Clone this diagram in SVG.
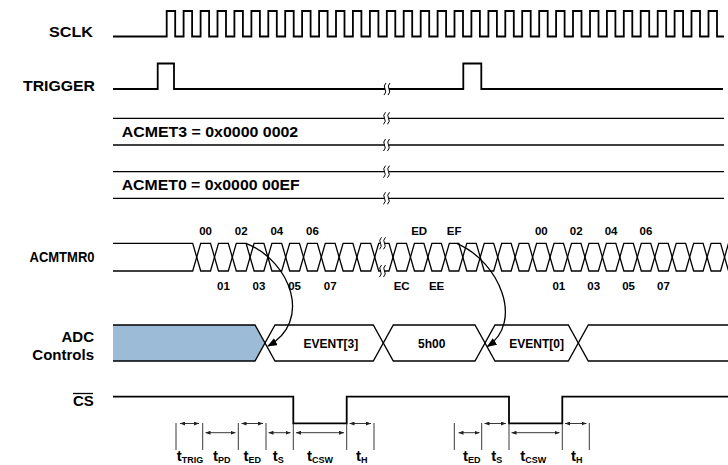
<svg xmlns="http://www.w3.org/2000/svg" xmlns:xlink="http://www.w3.org/1999/xlink" width="728" height="465" viewBox="0 0 728 465">
<style>
text{font-family:"Liberation Sans",Arial,sans-serif;font-weight:bold;fill:#000}
.lbl{font-size:15px}
.cnt{font-size:11.5px;text-anchor:middle}
.bus{font-size:12px;text-anchor:middle}
.tm{font-size:15px;text-anchor:middle}
.sub{font-size:9px}
.sig{fill:none;stroke:#000;stroke-width:1.8;stroke-linejoin:miter}
.thin{fill:none;stroke:#000;stroke-width:1.3}
.tick{fill:none;stroke:#222;stroke-width:0.9}
.dim{fill:none;stroke:#222;stroke-width:0.9;marker-start:url(#dh);marker-end:url(#dh)}
.conn{fill:none;stroke:#000;stroke-width:1.3;marker-end:url(#ah)}
.sq{fill:none;stroke:#000;stroke-width:1}
</style>
<defs>
<marker id="ah" markerUnits="userSpaceOnUse" markerWidth="10" markerHeight="8" refX="9" refY="4" orient="auto"><path d="M0,0 L10,4 L0,8 z" fill="#000"/></marker>
<marker id="dh" markerUnits="userSpaceOnUse" markerWidth="5" markerHeight="4" refX="5" refY="2" orient="auto-start-reverse"><path d="M0,0 L5,2 L0,4 z" fill="#222"/></marker>
<g id="brk"><rect x="-2" y="-1.8" width="4" height="3.6" fill="#fff"/><path class="sq" d="M-1,-6 Q-4,-3 -2,0 T-3,6"/><path class="sq" d="M3,-6 Q0,-3 2,0 T1,6"/></g>
</defs>
<rect width="728" height="465" fill="#fff"/>

<g id="sig-sclk">
<text class="lbl" x="49" y="37" textLength="44" lengthAdjust="spacingAndGlyphs">SCLK</text>
<path class="sig" d="M113,36.5 H166.7 V11 H175.2 V36.5 H183.6 V11 H192.1 V36.5 H200.6 V11 H209.1 V36.5 H217.5 V11 H226 V36.5 H234.4 V11 H242.9 V36.5 H251.4 V11 H259.9 V36.5 H268.3 V11 H276.8 V36.5 H285.2 V11 H293.7 V36.5 H302.1 V11 H310.6 V36.5 H319.1 V11 H327.6 V36.5 H336 V11 H344.5 V36.5 H352.9 V11 H361.4 V36.5 H369.9 V11 H378.4 V36.5 H386.8 V11 H395.3 V36.5 H403.7 V11 H412.2 V36.5 H420.7 V11 H429.2 V36.5 H437.6 V11 H446.1 V36.5 H454.5 V11 H463 V36.5 H471.4 V11 H479.9 V36.5 H488.4 V11 H496.9 V36.5 H505.3 V11 H513.8 V36.5 H522.2 V11 H530.7 V36.5 H539.2 V11 H547.7 V36.5 H556.1 V11 H564.6 V36.5 H573 V11 H581.5 V36.5 H590 V11 H598.5 V36.5 H606.9 V11 H615.4 V36.5 H623.8 V11 H632.3 V36.5 H640.7 V11 H649.2 V36.5 H657.7 V11 H666.2 V36.5 H674.6 V11 H683.1 V36.5 H691.5 V11 H700 V36.5 H708.5 V11 H717 V36.5 H724"/>
</g>

<g id="sig-trigger">
<text class="lbl" x="23" y="90.5" textLength="72" lengthAdjust="spacingAndGlyphs">TRIGGER</text>
<path class="sig" d="M113,89 H157.7 V63.5 H174 V89 H463.3 V63.5 H481.3 V89 H723"/>
<use xlink:href="#brk" x="387" y="89"/>
</g>

<g id="sig-acmet3">
<line class="thin" x1="113" y1="118.3" x2="724" y2="118.3"/>
<line class="thin" x1="113" y1="145" x2="724" y2="145"/>
<text class="lbl" x="121.7" y="136.5" textLength="176.5" lengthAdjust="spacingAndGlyphs">ACMET3 = 0x0000 0002</text>
<use xlink:href="#brk" x="386.5" y="118.3"/>
<use xlink:href="#brk" x="386.5" y="145"/>
</g>

<g id="sig-acmet0">
<line class="thin" x1="113" y1="171.7" x2="724" y2="171.7"/>
<line class="thin" x1="113" y1="198.3" x2="724" y2="198.3"/>
<text class="lbl" x="121.7" y="189.5" textLength="178" lengthAdjust="spacingAndGlyphs">ACMET0 = 0x0000 00EF</text>
<use xlink:href="#brk" x="386.5" y="171.7"/>
<use xlink:href="#brk" x="386.5" y="198.3"/>
</g>

<g id="sig-acmtmr0">
<text class="lbl" x="29.5" y="262" textLength="65" lengthAdjust="spacingAndGlyphs">ACMTMR0</text>
<path class="thin" d="M113,243.3 H192.7 L200.7,271 H210.5 L218.5,243.3 H228.3 L236.3,271 H246.1 L254.1,243.3 H263.9 L271.9,271 H281.7 L289.7,243.3 H299.5 L307.5,271 H317.3 L325.3,243.3 H335.1 L343.1,271 H352.9 L360.9,243.3 H370.7 L378.7,271 H385"/>
<path class="thin" d="M113,271 H192.7 L200.7,243.3 H210.5 L218.5,271 H228.3 L236.3,243.3 H246.1 L254.1,271 H263.9 L271.9,243.3 H281.7 L289.7,271 H299.5 L307.5,243.3 H317.3 L325.3,271 H335.1 L343.1,243.3 H352.9 L360.9,271 H370.7 L378.7,243.3 H385"/>
<path class="thin" d="M380,271 H389 L397,243.3 H406.45 L414.45,271 H423.9 L431.9,243.3 H441.35 L449.35,271 H458.8 L466.8,243.3 H476.25 L484.25,271 H493.7 L501.7,243.3 H511.15 L519.15,271 H528.6 L536.6,243.3 H546.05 L554.05,271 H563.5 L571.5,243.3 H580.95 L588.95,271 H598.4 L606.4,243.3 H615.85 L623.85,271 H633.3 L641.3,243.3 H650.75 L658.75,271 H668.2 L676.2,243.3 H685.65 L693.65,271 H703.1 L711.1,243.3 H720.55 L728.55,271"/>
<path class="thin" d="M380,243.3 H389 L397,271 H406.45 L414.45,243.3 H423.9 L431.9,271 H441.35 L449.35,243.3 H458.8 L466.8,271 H476.25 L484.25,243.3 H493.7 L501.7,271 H511.15 L519.15,243.3 H528.6 L536.6,271 H546.05 L554.05,243.3 H563.5 L571.5,271 H580.95 L588.95,243.3 H598.4 L606.4,271 H615.85 L623.85,243.3 H633.3 L641.3,271 H650.75 L658.75,243.3 H668.2 L676.2,271 H685.65 L693.65,243.3 H703.1 L711.1,271 H720.55 L728.55,243.3"/>
<use xlink:href="#brk" x="382.5" y="243.3"/>
<use xlink:href="#brk" x="382.5" y="271"/>
<text class="cnt" x="205.6" y="235">00</text>
<text class="cnt" x="241.2" y="235">02</text>
<text class="cnt" x="276.8" y="235">04</text>
<text class="cnt" x="312.4" y="235">06</text>
<text class="cnt" x="223.4" y="289.5">01</text>
<text class="cnt" x="259" y="289.5">03</text>
<text class="cnt" x="294.6" y="289.5">05</text>
<text class="cnt" x="330.2" y="289.5">07</text>
<text class="cnt" x="419.2" y="235">ED</text>
<text class="cnt" x="454.1" y="235">EF</text>
<text class="cnt" x="541.3" y="235">00</text>
<text class="cnt" x="576.2" y="235">02</text>
<text class="cnt" x="611.1" y="235">04</text>
<text class="cnt" x="646" y="235">06</text>
<text class="cnt" x="401.7" y="289.5">EC</text>
<text class="cnt" x="436.6" y="289.5">EE</text>
<text class="cnt" x="558.8" y="289.5">01</text>
<text class="cnt" x="593.7" y="289.5">03</text>
<text class="cnt" x="628.6" y="289.5">05</text>
<text class="cnt" x="663.5" y="289.5">07</text>
</g>

<g id="sig-adc">
<text class="lbl" x="94" y="342" text-anchor="end" font-size="14">ADC</text>
<text class="lbl" x="94" y="360" text-anchor="end" font-size="14">Controls</text>
<polygon points="113,325 255,325 265,343 255,361 113,361" fill="#9bbbd6"/>
<path class="thin" d="M113,325 H255 L275,361 H373.3 L393.3,325 H475 L495,361 H568.3 L588.3,325 H728"/>
<path class="thin" d="M113,361 H255 L275,325 H373.3 L393.3,361 H475 L495,325 H568.3 L588.3,361 H728"/>
<text class="bus" x="330.8" y="347.5">EVENT[3]</text>
<text class="bus" x="431.7" y="347.5">5h00</text>
<text class="bus" x="536.7" y="347.5">EVENT[0]</text>
</g>

<g id="sig-cs">
<text class="lbl" x="73" y="406" font-size="14">CS</text>
<line x1="73" y1="393.5" x2="93" y2="393.5" stroke="#000" stroke-width="1.3"/>
<path class="sig" d="M113,396.7 H293.3 V423.3 H346.7 V396.7 H509 V423.3 H562.3 V396.7 H728" stroke-width="2"/>
</g>

<g id="timing-annotations">
<path class="tick" d="M176,423 V450 M202.7,423 V450 M238.3,423 V450 M266,423 V450 M293.3,423.3 V450 M346.7,423.3 V450 M374,423 V450 M454.3,423 V450 M481.7,423 V450 M509,423.3 V450 M562.3,423.3 V450 M589.3,423 V450"/>
<line class="dim" x1="180" y1="423.5" x2="199" y2="423.5"/>
<line class="dim" x1="205.5" y1="432.7" x2="235.5" y2="432.7"/>
<line class="dim" x1="241.5" y1="423.5" x2="263" y2="423.5"/>
<line class="dim" x1="268.5" y1="432.7" x2="290.5" y2="432.7"/>
<line class="dim" x1="296" y1="432.7" x2="344" y2="432.7"/>
<line class="dim" x1="349.5" y1="423.5" x2="371" y2="423.5"/>
<line class="dim" x1="458.5" y1="432.7" x2="479.5" y2="432.7"/>
<line class="dim" x1="484.5" y1="423.5" x2="506" y2="423.5"/>
<line class="dim" x1="511.5" y1="432.7" x2="559.5" y2="432.7"/>
<line class="dim" x1="565" y1="423.5" x2="586.5" y2="423.5"/>
<text class="tm" x="190" y="461">t<tspan class="sub" dy="2">TRIG</tspan></text>
<text class="tm" x="221.7" y="461">t<tspan class="sub" dy="2">PD</tspan></text>
<text class="tm" x="252.3" y="461">t<tspan class="sub" dy="2">ED</tspan></text>
<text class="tm" x="278.3" y="461">t<tspan class="sub" dy="2">S</tspan></text>
<text class="tm" x="320" y="461">t<tspan class="sub" dy="2">CSW</tspan></text>
<text class="tm" x="361.7" y="461">t<tspan class="sub" dy="2">H</tspan></text>
<text class="tm" x="471.7" y="461">t<tspan class="sub" dy="2">ED</tspan></text>
<text class="tm" x="496.7" y="461">t<tspan class="sub" dy="2">S</tspan></text>
<text class="tm" x="533.3" y="461">t<tspan class="sub" dy="2">CSW</tspan></text>
<text class="tm" x="576.7" y="461">t<tspan class="sub" dy="2">H</tspan></text>
</g>

<g id="connectors">
<path class="conn" d="M246,243.3 C292,262 312,322 268,346"/>
<path class="conn" d="M456.7,243.3 C500,262 524,322 487.5,346.5"/>
</g>
</svg>
